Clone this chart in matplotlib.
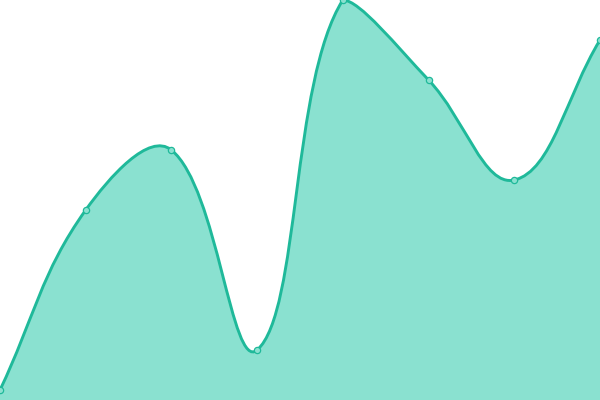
import matplotlib
matplotlib.use('Agg')
import matplotlib.pyplot as plt
from matplotlib.path import Path
from matplotlib.patches import PathPatch
import numpy as np

# data
labels = ['A', 'B', 'C', 'D', 'E', 'F', 'G', 'H']
values = [10, 190, 250, 50, 400, 320, 220, 360]

line_color = '#1fb99a'
fill_color = '#8ae1d0'
tension = 0.4
ymin, ymax = 0, 400

x = np.linspace(0, 600, len(values))
y = np.array(values, dtype=float)
pts = np.column_stack([x, y])

# chart.js style spline control points, capped to the chart area
n = len(pts)
cp_prev = pts.copy()
cp_next = pts.copy()
for i in range(n):
    prev = pts[i - 1] if i > 0 else pts[i]
    cur = pts[i]
    nxt = pts[i + 1] if i < n - 1 else pts[i]
    d01 = np.hypot(*(cur - prev))
    d12 = np.hypot(*(nxt - cur))
    tot = d01 + d12
    s01 = d01 / tot if tot else 0
    s12 = d12 / tot if tot else 0
    cp_prev[i] = cur - tension * s01 * (nxt - prev)
    cp_next[i] = cur + tension * s12 * (nxt - prev)
cp_prev[:, 1] = np.clip(cp_prev[:, 1], ymin, ymax)
cp_next[:, 1] = np.clip(cp_next[:, 1], ymin, ymax)

verts = [tuple(pts[0])]
codes = [Path.MOVETO]
for i in range(n - 1):
    verts += [tuple(cp_next[i]), tuple(cp_prev[i + 1]), tuple(pts[i + 1])]
    codes += [Path.CURVE4] * 3

fig = plt.figure(figsize=(6, 4), dpi=100)
ax = fig.add_axes([0, 0, 1, 1])

fill_verts = verts + [(x[-1], ymin), (x[0], ymin), verts[0]]
fill_codes = codes + [Path.LINETO, Path.LINETO, Path.CLOSEPOLY]
ax.add_patch(PathPatch(Path(fill_verts, fill_codes), facecolor=fill_color, edgecolor='none'))
ax.add_patch(PathPatch(Path(verts, codes), facecolor='none', edgecolor=line_color, lw=2.1))

ax.plot(x, y, 'o', ms=4.5, mfc=fill_color, mec=line_color, mew=0.9)

ax.set_xlim(0, 600)
ax.set_ylim(ymin, ymax)
ax.axis('off')

fig.savefig('out.png', dpi=100)
